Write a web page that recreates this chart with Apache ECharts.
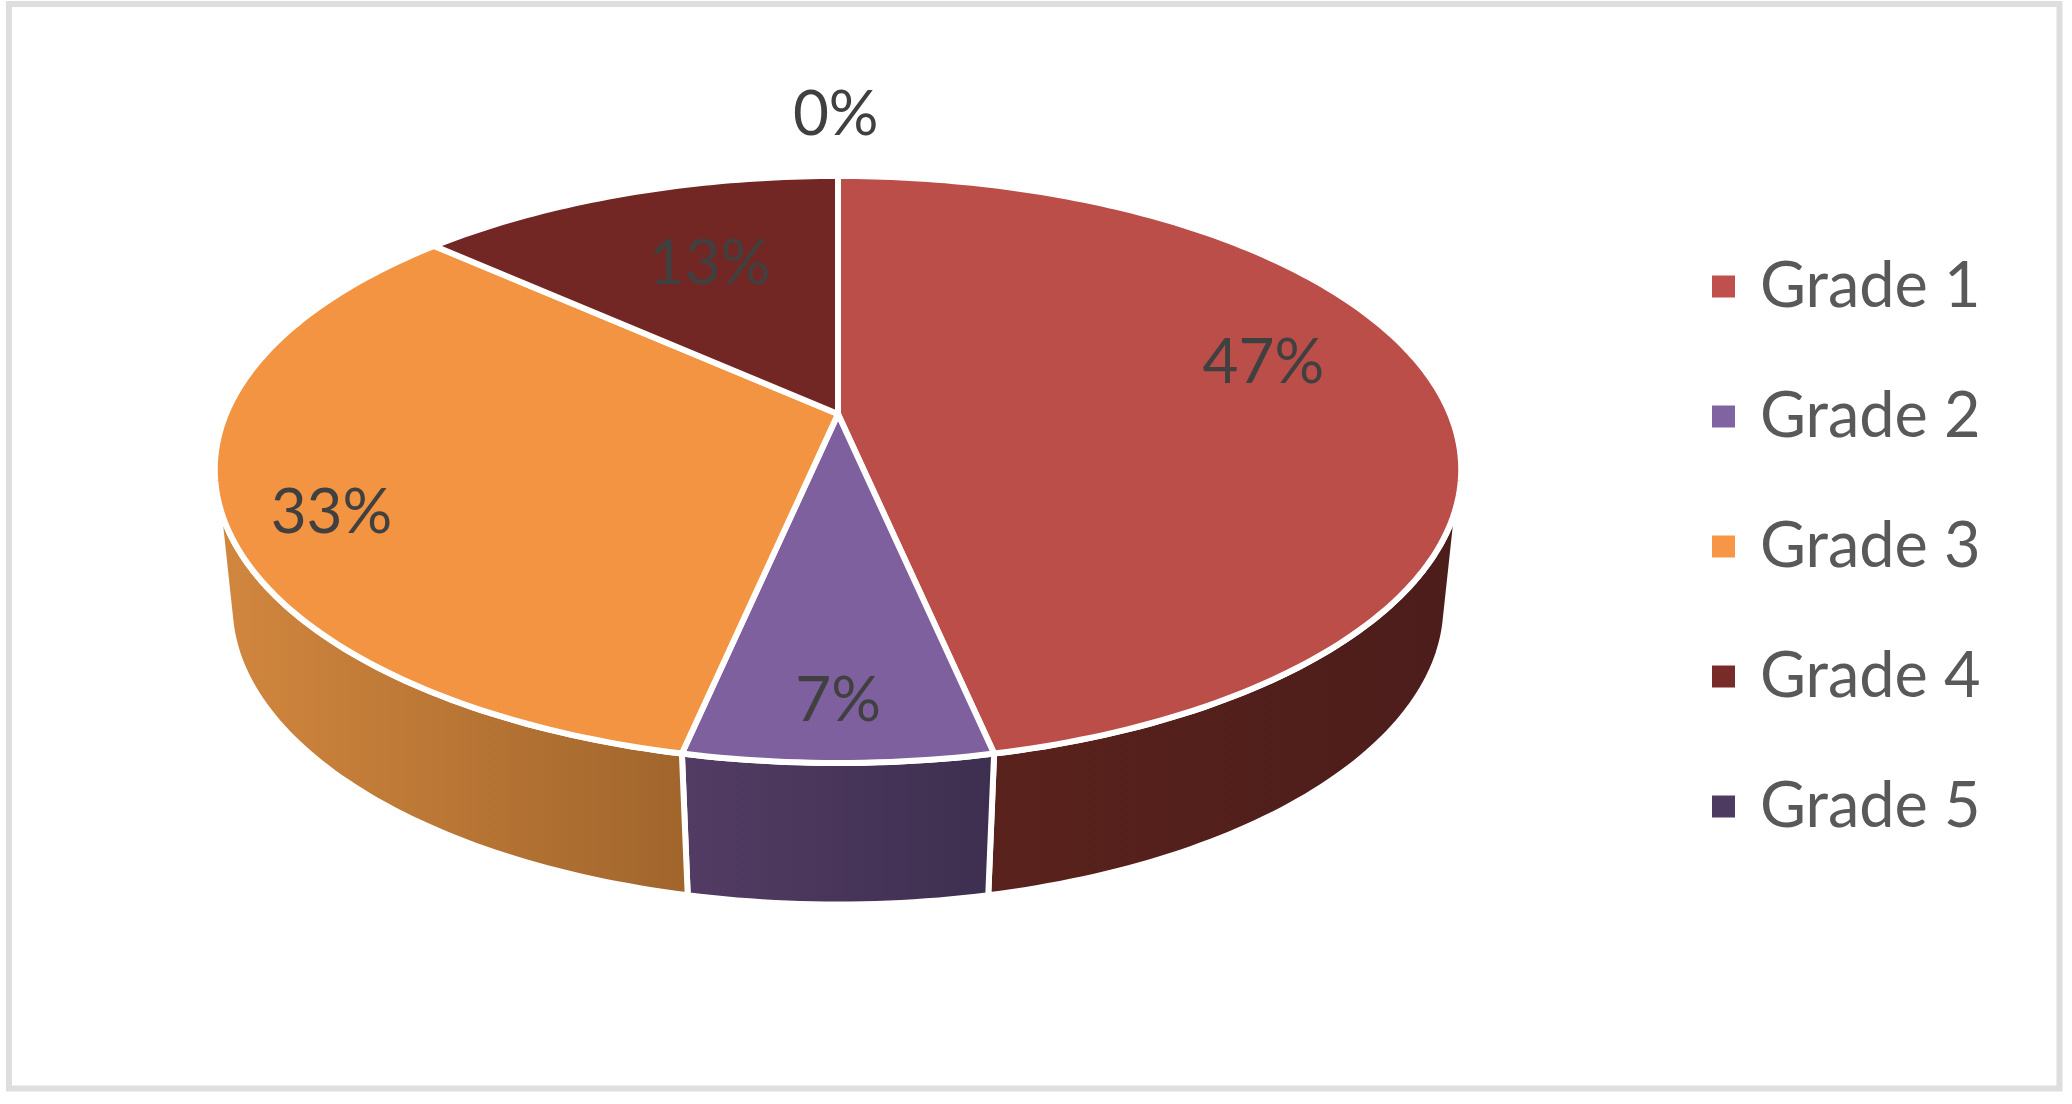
<!DOCTYPE html>
<html>
<head>
<meta charset="utf-8">
<style>
  html, body { margin: 0; padding: 0; background: #fff; }
  #chart { width: 2072px; height: 1104px; }
</style>
<script src="https://cdn.jsdelivr.net/npm/echarts@6/dist/echarts.min.js"></script>
</head>
<body>
<div id="chart"></div>
<script>
// chart data
const grades = ['Grade 1', 'Grade 2', 'Grade 3', 'Grade 4', 'Grade 5'];
const counts = [7, 1, 5, 2, 0];

// colours per grade
const topColors = ['#bc4e4a', '#7f609e', '#f29441', '#732724', '#4d3b62'];
const legendColors = ['#c0504d', '#8064a2', '#f79646', '#772c2a', '#4d3b62'];
const sideColors = [
  ['#5a221c', '#4b1d1b'],
  ['#533c64', '#3d2f4f'],
  ['#d2873e', '#a0652c'],
  ['#5a1f1c', '#5a1f1c'],
  ['#3d2f4f', '#3d2f4f'],
];

// label placement inside the tilted disc: angle from 12 o'clock, fraction of radius
const labelAngles = [74.8, 180, 247.6, 338.7, 359.8];
const labelRadii = [0.747, 0.845, 0.841, 0.643, 1.33];

// perspective of the disc, the apex of the slices sits at (apexX, apexY)
const apexX = 838;
const apexY = 414;
const topPlane = { dy: 0, R: 612, b: 283, k: 0.189 };
const bottomPlane = { dy: 139, R: 599, b: 290, k: 0.175 };
// the wall is only seen between these angles, top rim and bottom rim differ a bit
const topVisible = [105, 255];
const bottomVisible = [103, 257];

const total = counts.reduce((a, b) => a + b, 0);
const startAngles = counts.map((_, i) => counts.slice(0, i).reduce((a, b) => a + b, 0) / total * 360);

const project = (deg, r, plane) => {
  const rad = deg * Math.PI / 180;
  const u = Math.sin(rad) * r;
  const v = -Math.cos(rad) * r;
  const w = 1 - plane.k * v;
  return [apexX + plane.R * u / w, apexY + plane.dy + plane.b * v / w];
};

const arc = (from, to, plane) => {
  const pts = [];
  const n = Math.max(1, Math.ceil(Math.abs(to - from)));
  for (let i = 0; i <= n; i++) pts.push(project(from + (to - from) * i / n, 1, plane));
  return pts;
};

const renderSlice = (i) => (params, api) => {
  const sweep = api.value(0) / total * 360;
  const from = startAngles[i];
  const to = from + sweep;
  const children = [];

  if (sweep > 0) {
    const a = Math.max(from, topVisible[0]);
    const b = Math.min(to, topVisible[1]);
    if (b > a) {
      const lowA = Math.max(from, bottomVisible[0]);
      const lowB = Math.min(to, bottomVisible[1]);
      children.push({
        type: 'polygon',
        z2: 1,
        shape: { points: arc(a, b, topPlane).concat(arc(lowB, lowA, bottomPlane)) },
        style: {
          fill: new echarts.graphic.LinearGradient(0, 0, 1, 0, [
            { offset: 0, color: sideColors[i][0] },
            { offset: 1, color: sideColors[i][1] },
          ]),
          stroke: '#fff',
          lineWidth: 6,
          lineJoin: 'round',
        },
      });
    }
    children.push({
      type: 'polygon',
      z2: 2,
      shape: { points: [[apexX, apexY]].concat(arc(from, to, topPlane)) },
      style: { fill: topColors[i], stroke: '#fff', lineWidth: 6, lineJoin: 'round' },
    });
  }

  const pos = project(labelAngles[i], labelRadii[i], topPlane);
  children.push({
    type: 'text',
    z2: 3,
    x: pos[0],
    y: pos[1] + 2,
    style: {
      text: Math.round(api.value(0) / total * 100) + '%',
      font: '62px Lato',
      fill: '#404040',
      align: 'center',
      verticalAlign: 'middle',
    },
  });
  return { type: 'group', children };
};

const chart = echarts.init(document.getElementById('chart'));
chart.setOption({
  animation: false,
  backgroundColor: '#fff',
  legend: {
    orient: 'vertical',
    left: 1712,
    top: 255,
    padding: 0,
    itemWidth: 23,
    itemHeight: 22,
    itemGap: 67,
    icon: 'rect',
    data: grades,
    textStyle: {
      color: '#595959',
      fontFamily: 'Lato',
      fontSize: 63,
      lineHeight: 60,
      padding: [0, 0, 0, 20],
    },
  },
  graphic: [{
    type: 'rect',
    shape: { x: 9, y: 4, width: 2050.5, height: 1084.5 },
    style: { fill: 'none', stroke: '#dedede', lineWidth: 6 },
    silent: true,
  }],
  series: grades.map((name, i) => ({
    type: 'custom',
    name,
    coordinateSystem: 'none',
    itemStyle: { color: legendColors[i] },
    renderItem: renderSlice(i),
    data: [[counts[i]]],
    silent: true,
  })),
});
</script>
</body>
</html>
